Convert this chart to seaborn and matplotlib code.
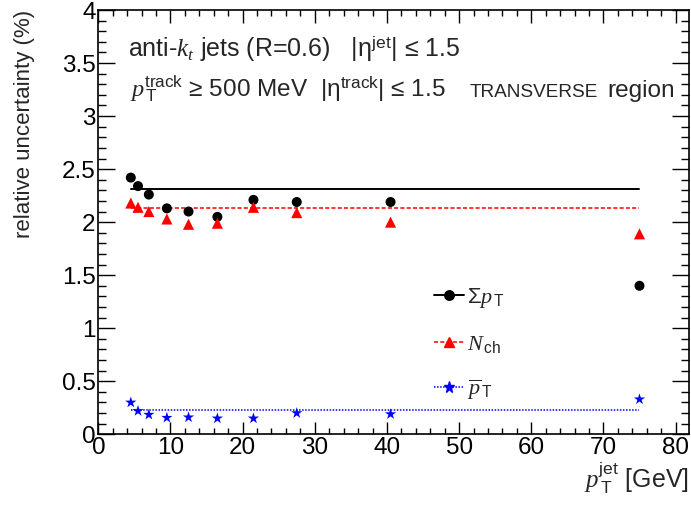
import numpy as np
import pandas as pd
import matplotlib
matplotlib.use("Agg")
import matplotlib.pyplot as plt
from matplotlib.lines import Line2D
from matplotlib.ticker import MultipleLocator
import seaborn as sns

# ---- data ----
pt_jet = [4.5, 5.5, 7.0, 9.5, 12.5, 16.5, 21.5, 27.5, 40.5, 75.0]
sum_pt = [2.42, 2.34, 2.26, 2.13, 2.10, 2.05, 2.21, 2.19, 2.19, 1.40]
n_ch = [2.18, 2.14, 2.10, 2.03, 1.98, 1.99, 2.14, 2.09, 2.00, 1.89]
mean_pt = [0.30, 0.22, 0.185, 0.156, 0.16, 0.15, 0.15, 0.20, 0.19, 0.33]
flat_sum_pt = 2.31
flat_n_ch = 2.13
flat_mean_pt = 0.23
labels = [r"$\Sigma p_{\,\mathrm{T}}$", r"$N_{\,\mathrm{ch}}$", r"$\overline{p}_{\,\mathrm{T}}$"]
xticks = [0, 10, 20, 30, 40, 50, 60, 70, 80]
yticks = [0, 0.5, 1, 1.5, 2, 2.5, 3, 3.5, 4]

sns.set_theme(style="ticks")
plt.rcParams["font.family"] = ["Liberation Sans", "DejaVu Sans"]
plt.rcParams["mathtext.fontset"] = "custom"
plt.rcParams["mathtext.rm"] = "Liberation Sans"
plt.rcParams["mathtext.it"] = "Liberation Serif:italic"
plt.rcParams["mathtext.bf"] = "Liberation Sans:bold"

fig = plt.figure(figsize=(6.91, 5.08), dpi=100)
ax = fig.add_axes([0.1423, 0.1451, 0.9975 - 0.1423, 0.9803 - 0.1451])

series = [
    (sum_pt, flat_sum_pt, "black", "o", 7.2, None, 1.4),
    (n_ch, flat_n_ch, "red", "^", 8.0, (2.7, 1.4), 1.1),
    (mean_pt, flat_mean_pt, "blue", "*", 8.5, (1.0, 1.0), 1.1),
]

handles = []
for (vals, flat, col, mk, ms, dash, lw), lab in zip(series, labels):
    df = pd.DataFrame({"x": pt_jet, "y": vals})
    sns.scatterplot(data=df, x="x", y="y", ax=ax, color=col, marker=mk,
                    s=ms ** 2, edgecolor="none", linewidth=0, zorder=3)
    dl = pd.DataFrame({"x": [pt_jet[0], pt_jet[-1]], "y": [flat, flat]})
    kw = {}
    if dash is not None:
        kw["dashes"] = dash
    sns.lineplot(data=dl, x="x", y="y", ax=ax, color=col, linewidth=lw, zorder=2, **kw)
    h = Line2D([], [], color=col, marker=mk, markersize=ms * 0.95, linewidth=lw,
               markeredgecolor=col)
    if dash is not None:
        h.set_dashes(dash)
    handles.append(h)

ax.set_xlim(0, 81.9)
ax.set_ylim(0, 4)
ax.set_xticks(xticks)
ax.set_yticks(yticks)
ax.set_xticklabels([f"{t:g}" for t in xticks])
ax.set_yticklabels([f"{t:g}" for t in yticks])
ax.xaxis.set_minor_locator(MultipleLocator(2))
ax.yaxis.set_minor_locator(MultipleLocator(0.1))
ax.tick_params(axis="both", which="both", direction="in", top=True, right=True,
               labelsize=17.5, width=1.0, colors="black")
ax.tick_params(axis="x", which="major", length=9, pad=2)
ax.tick_params(axis="x", which="minor", length=4.3)
ax.tick_params(axis="y", which="major", length=12, pad=2)
ax.tick_params(axis="y", which="minor", length=6)
for sp in ax.spines.values():
    sp.set_linewidth(1.2)
    sp.set_color("black")

ax.set_xlabel(r"$p_{\,\mathrm{T}}^{\mathrm{jet}}$ [GeV]", fontsize=18, loc="right", labelpad=0)
ax.set_ylabel("relative uncertainty (%)", fontsize=16, loc="top")
ax.yaxis.set_label_coords(-0.107, 1.0)

ax.text(0.050, 0.889, r"anti-$k_{t}$ jets (R=0.6)   |η$^{\mathrm{jet}}$| ≤ 1.5",
        transform=ax.transAxes, fontsize=18, va="baseline", ha="left")
ax.text(0.053, 0.795, r"$p_{\,\mathrm{T}}^{\mathrm{track}}$ ≥ 500 MeV  |η$^{\mathrm{track}}$| ≤ 1.5",
        transform=ax.transAxes, fontsize=17.6, va="baseline", ha="left")
ax.text(0.629, 0.795, "TRANSVERSE", transform=ax.transAxes, fontsize=13.7,
        va="baseline", ha="left")
ax.text(0.976, 0.795, "region", transform=ax.transAxes, fontsize=17.6,
        va="baseline", ha="right")

ax.legend(handles=handles, labels=labels, loc="upper left",
          bbox_to_anchor=(0.553, 0.37), frameon=False, fontsize=16,
          handlelength=1.35, handletextpad=0.15, labelspacing=1.05,
          borderaxespad=0)

fig.savefig("out.png", dpi=100)
